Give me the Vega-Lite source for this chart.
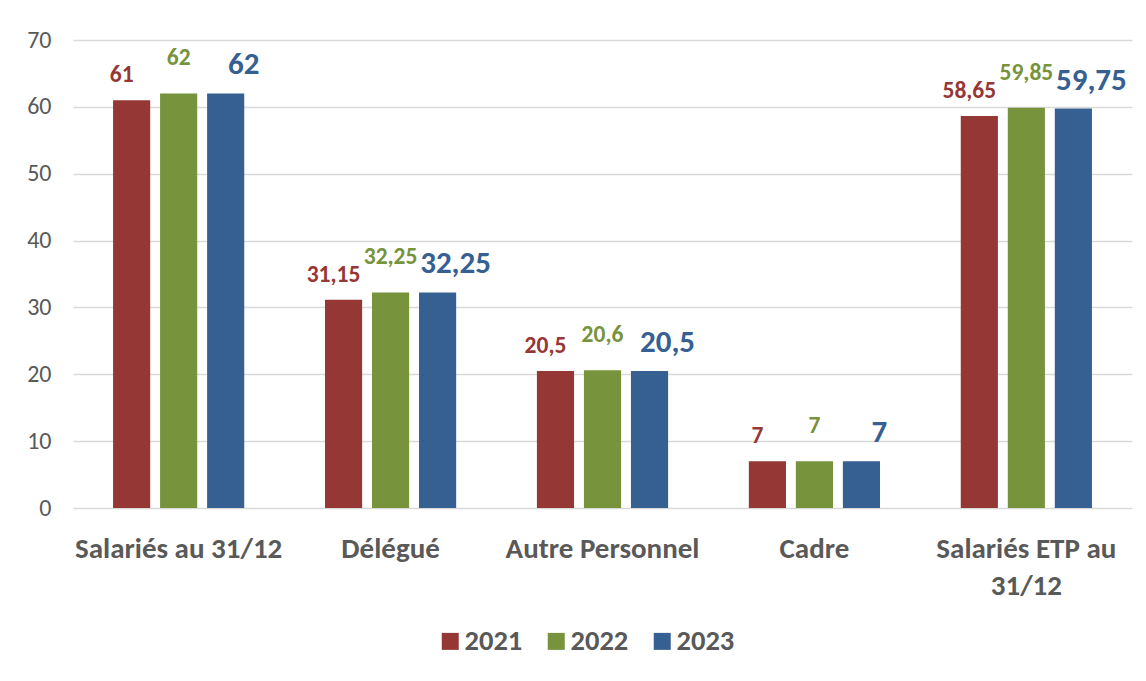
{
  "$schema": "https://vega.github.io/schema/vega-lite/v6.json",
  "autosize": {"type": "none"},
  "width": 1059,
  "height": 468,
  "padding": {"left": 73, "top": 40, "right": 14, "bottom": 173},
  "background": "white",
  "config": {
    "font": "Carlito, Lato",
    "view": {"stroke": null},
    "locale": {"number": {"decimal": ",", "thousands": "\u00a0", "grouping": [3], "currency": ["", " €"]}}
  },
  "data": {
    "values": [
      {"categorie": "Salariés au 31/12", "annee": "2021", "valeur": 61},
      {"categorie": "Salariés au 31/12", "annee": "2022", "valeur": 62},
      {"categorie": "Salariés au 31/12", "annee": "2023", "valeur": 62},
      {"categorie": "Délégué", "annee": "2021", "valeur": 31.15},
      {"categorie": "Délégué", "annee": "2022", "valeur": 32.25},
      {"categorie": "Délégué", "annee": "2023", "valeur": 32.25},
      {"categorie": "Autre Personnel", "annee": "2021", "valeur": 20.5},
      {"categorie": "Autre Personnel", "annee": "2022", "valeur": 20.6},
      {"categorie": "Autre Personnel", "annee": "2023", "valeur": 20.5},
      {"categorie": "Cadre", "annee": "2021", "valeur": 7},
      {"categorie": "Cadre", "annee": "2022", "valeur": 7},
      {"categorie": "Cadre", "annee": "2023", "valeur": 7},
      {"categorie": "Salariés ETP au 31/12", "annee": "2021", "valeur": 58.65},
      {"categorie": "Salariés ETP au 31/12", "annee": "2022", "valeur": 59.85},
      {"categorie": "Salariés ETP au 31/12", "annee": "2023", "valeur": 59.75}
    ]
  },
  "encoding": {
    "x": {
      "field": "categorie",
      "type": "nominal",
      "sort": ["Salariés au 31/12", "Délégué", "Autre Personnel", "Cadre", "Salariés ETP au 31/12"],
      "scale": {"paddingInner": 0.381, "paddingOuter": 0.189},
      "axis": {
        "title": null,
        "domain": false,
        "ticks": false,
        "labelAngle": 0,
        "labelFontSize": 29,
        "labelFontWeight": "bold",
        "labelColor": "#595959",
        "labelPadding": 26,
        "labelLimit": 0,
        "labelLineHeight": 37,
        "labelExpr": "datum.label == 'Salariés ETP au 31/12' ? ['Salariés ETP au', '31/12'] : datum.label"
      }
    },
    "xOffset": {
      "field": "annee",
      "type": "nominal",
      "scale": {"paddingInner": 0.21, "paddingOuter": 0}
    },
    "y": {
      "field": "valeur",
      "type": "quantitative",
      "scale": {"domain": [0, 70], "nice": false},
      "axis": {
        "title": null,
        "domain": false,
        "ticks": false,
        "values": [0, 10, 20, 30, 40, 50, 60, 70],
        "labelFontSize": 24,
        "labelColor": "#595959",
        "labelPadding": 22,
        "gridColor": "#d9d9d9",
        "gridWidth": 1.5
      }
    }
  },
  "layer": [
    {
      "mark": {"type": "bar"},
      "encoding": {
        "color": {
          "field": "annee",
          "type": "nominal",
          "scale": {"domain": ["2021", "2022", "2023"], "range": ["#953735", "#77933C", "#366092"]},
          "legend": {
            "title": null,
            "orient": "none",
            "legendX": 363,
            "legendY": 587,
            "direction": "horizontal",
            "symbolType": "square",
            "symbolSize": 289,
            "symbolStrokeWidth": 0,
            "symbolOpacity": 1,
            "labelFontSize": 28.5,
            "labelFontWeight": "bold",
            "labelColor": "#595959",
            "labelOffset": 0,
            "columnPadding": 19,
            "padding": 0
          }
        }
      }
    },
    {
      "transform": [{"filter": "datum.annee == '2021'"}],
      "mark": {"type": "text", "baseline": "alphabetic", "dy": -18, "dx": -10, "fontSize": 23.5, "fontWeight": "bold", "color": "#953735"},
      "encoding": {"text": {"field": "valeur", "type": "quantitative", "format": ".4~r"}}
    },
    {
      "transform": [{"filter": "datum.annee == '2022'"}],
      "mark": {"type": "text", "baseline": "alphabetic", "dy": -28, "fontSize": 23.5, "fontWeight": "bold", "color": "#77933C"},
      "encoding": {"text": {"field": "valeur", "type": "quantitative", "format": ".4~r"}}
    },
    {
      "transform": [{"filter": "datum.annee == '2023'"}],
      "mark": {"type": "text", "baseline": "alphabetic", "dy": -19, "dx": 18, "fontSize": 31, "fontWeight": "bold", "color": "#366092"},
      "encoding": {"text": {"field": "valeur", "type": "quantitative", "format": ".4~r"}}
    }
  ]
}
